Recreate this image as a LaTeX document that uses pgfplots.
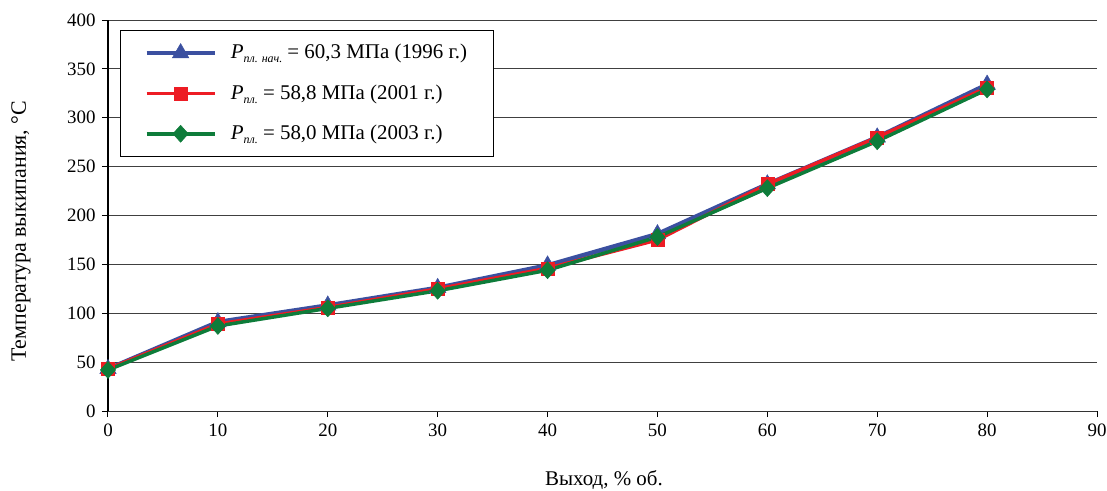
\documentclass[border=0pt]{standalone}
\usepackage{pgfplots}
\pgfplotsset{compat=1.18}
\usepackage{fontspec}
\setmainfont{Liberation Serif}
\definecolor{cblue}{RGB}{59,80,160}
\definecolor{cred}{RGB}{237,28,36}
\definecolor{cgreen}{RGB}{14,124,58}
\newcommand{\sub}[1]{\raisebox{-4bp}{\fontsize{12}{12}\selectfont\itshape #1}}
\begin{document}
\fontsize{19}{22}\selectfont
\begin{tikzpicture}
\useasboundingbox (-108bp,-80bp) rectangle (999bp,411bp);
\begin{axis}[
  at={(0,0)}, anchor=south west,
  scale only axis,
  width=989bp, height=391bp,
  xmin=0, xmax=90, ymin=0, ymax=400,
  xtick={0,10,...,90}, ytick={0,50,...,400},
  axis x line*=bottom, axis y line*=left,
  axis line style={black, line width=1.6bp},
  x axis line style={-, line width=1bp, draw=black!80},
  y axis line style={-},
  tick style={black, line width=1bp},
  tick align=outside, major tick length=6bp,
  ymajorgrids, grid style={black!75, line width=0.9bp},
  /pgf/number format/assume math mode=true,
  ticklabel style={font=\fontsize{19}{22}\selectfont},
  xlabel={Выход, \% об.},
  ylabel={Температура выкипания, °C},
  every axis x label/.style={at={(axis description cs:0.5015,-0.1765)}, anchor=center, font=\fontsize{21}{24}\selectfont},
  every axis y label/.style={at={(axis description cs:-0.088,0.46)}, rotate=90, anchor=center, font=\fontsize{22}{25}\selectfont},
  legend cell align=left,
  legend style={at={(axis description cs:0.0121,0.9744)}, anchor=north west,
    draw=black, line width=0.8bp, font=\fontsize{21}{25}\selectfont,
    inner xsep=24bp, inner ysep=12bp, row sep=19bp, fill=white},
  legend image code/.code={\draw[mark repeat=2,mark phase=2] plot coordinates {(0bp,0bp) (34bp,0bp) (68bp,0bp)}; \path (80bp,0bp);},
]
\addplot[cblue, line width=4.5bp, mark=triangle*, mark size=9.5bp, mark options={line width=0.5bp}]
 coordinates {(0,43) (10,91) (20,108) (30,126) (40,149) (50,181) (60,232) (70,280) (80,334)};
\addlegendentry{\textit{P}\sub{пл. нач.} = 60,3 МПа (1996 г.)}
\addplot[cred, line width=3.5bp, mark=square*, mark size=6.5bp, mark options={line width=0.5bp}]
 coordinates {(0,43) (10,89) (20,106) (30,125) (40,146) (50,175) (60,232) (70,280) (80,331)};
\addlegendentry{\textit{P}\sub{пл.} = 58,8 МПа (2001 г.)}
\addplot[cgreen, line width=3.5bp, mark=diamond*, mark size=8.5bp, mark options={line width=0.5bp, xscale=1.2}]
 coordinates {(0,42) (10,87) (20,105) (30,123) (40,144) (50,178) (60,228) (70,276) (80,329)};
\addlegendentry{\textit{P}\sub{пл.} = 58,0 МПа (2003 г.)}
\end{axis}
\end{tikzpicture}
\end{document}
